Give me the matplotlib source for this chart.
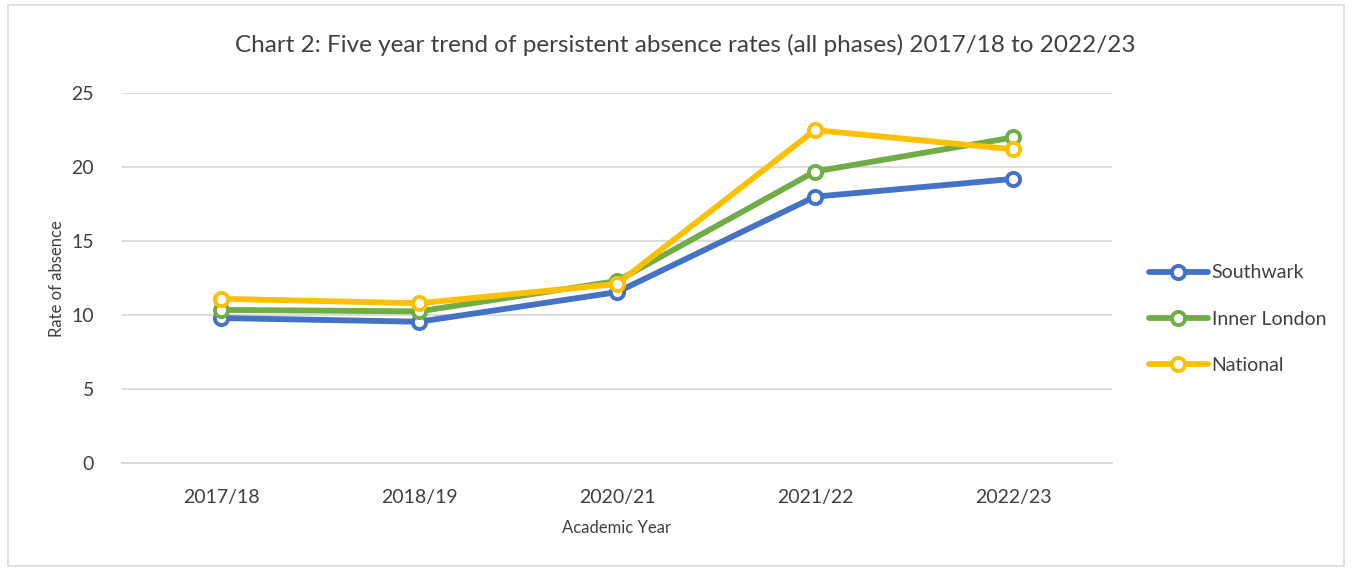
import matplotlib.pyplot as plt
from matplotlib.patches import Rectangle

# -----------------
# Data
# -----------------
years = ['2017/18', '2018/19', '2020/21', '2021/22', '2022/23']
southwark = [9.8, 9.55, 11.55, 18.0, 19.2]
inner_london = [10.35, 10.25, 12.3, 19.7, 22.0]
national = [11.1, 10.8, 12.1, 22.5, 21.2]

series = [
    ('Southwark', southwark, '#4472C4'),
    ('Inner London', inner_london, '#70AD47'),
    ('National', national, '#FFC000'),
]

plt.rcParams['font.family'] = ['Lato', 'DejaVu Sans']
text_col = '#404040'

# -----------------
# Plot
# -----------------
fig = plt.figure(figsize=(13.52, 5.71), dpi=100)
ax = fig.add_axes([0.0902, 0.189, 0.7323, 0.648])

x = list(range(len(years)))
for name, vals, col in series:
    ax.plot(x, vals, color=col, linewidth=4.2, marker='o', markersize=9.5,
            markerfacecolor='white', markeredgecolor=col, markeredgewidth=2.8,
            label=name, solid_capstyle='round', solid_joinstyle='round')

ax.set_xlim(-0.5, len(years) - 0.5)
ax.set_ylim(0, 25)
ax.set_yticks([0, 5, 10, 15, 20, 25])
ax.set_xticks(x)
ax.set_xticklabels(years)
ax.yaxis.grid(True, color='#D9D9D9', linewidth=1.3)
ax.set_axisbelow(True)
for s in ['top', 'right', 'left']:
    ax.spines[s].set_visible(False)
ax.spines['bottom'].set_color('#D9D9D9')
ax.spines['bottom'].set_linewidth(1.3)
ax.tick_params(axis='both', length=0, labelsize=14, colors=text_col)
ax.tick_params(axis='y', pad=20)
ax.tick_params(axis='x', pad=19)

ax.set_xlabel('Academic Year', fontsize=12, color=text_col, labelpad=10)
ax.set_ylabel('Rate of absence', fontsize=12, color=text_col, labelpad=4.5)

fig.suptitle('Chart 2: Five year trend of persistent absence rates (all phases) 2017/18 to 2022/23',
             x=0.507, y=0.94, fontsize=17.5, color=text_col)

ax.legend(loc='center left', bbox_to_anchor=(1.02, 0.389), frameon=False,
          fontsize=14, labelspacing=1.5, handlelength=3.0, handletextpad=0.2,
          labelcolor=text_col)

# chart area border
fig.patches.append(Rectangle((0.006, 0.008), 0.988, 0.984, transform=fig.transFigure,
                             fill=False, edgecolor='#D9D9D9', linewidth=1.2))

fig.savefig('out.png', dpi=100)
